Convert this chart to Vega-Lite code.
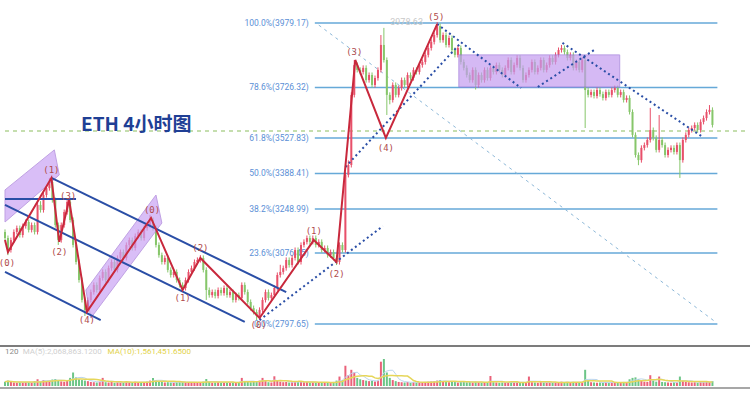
{
"$schema":"https://vega.github.io/schema/vega-lite/v6.json",
"width":750,"height":399,"padding":0,
"autosize":{"type":"none"},
"background":"#ffffff",
"config":{"view":{"stroke":null}},
"datasets":{
"candles":[
{"t":0,"o":3159,"h":3169,"l":3125,"c":3135,"v":1.6},
{"t":1,"o":3135,"h":3145,"l":3068,"c":3088,"v":2.0},
{"t":2,"o":3088,"h":3137,"l":3078,"c":3127,"v":1.5},
{"t":3,"o":3127,"h":3169,"l":3117,"c":3159,"v":1.3},
{"t":4,"o":3159,"h":3184,"l":3149,"c":3174,"v":1.2},
{"t":5,"o":3174,"h":3184,"l":3137,"c":3147,"v":1.4},
{"t":6,"o":3147,"h":3192,"l":3137,"c":3182,"v":1.3},
{"t":7,"o":3182,"h":3208,"l":3172,"c":3198,"v":1.5},
{"t":8,"o":3198,"h":3208,"l":3157,"c":3167,"v":1.4},
{"t":9,"o":3167,"h":3196,"l":3157,"c":3186,"v":1.2},
{"t":10,"o":3186,"h":3196,"l":3149,"c":3159,"v":1.8},
{"t":11,"o":3159,"h":3275,"l":3149,"c":3265,"v":2.5},
{"t":12,"o":3265,"h":3280,"l":3235,"c":3245,"v":1.6},
{"t":13,"o":3245,"h":3314,"l":3235,"c":3304,"v":2.2},
{"t":14,"o":3304,"h":3341,"l":3294,"c":3331,"v":1.8},
{"t":15,"o":3331,"h":3371,"l":3321,"c":3355,"v":2.0},
{"t":16,"o":3355,"h":3365,"l":3274,"c":3284,"v":2.4},
{"t":17,"o":3284,"h":3294,"l":3176,"c":3186,"v":2.6},
{"t":18,"o":3186,"h":3196,"l":3108,"c":3127,"v":2.0},
{"t":19,"o":3127,"h":3196,"l":3117,"c":3186,"v":1.7},
{"t":20,"o":3186,"h":3247,"l":3176,"c":3237,"v":1.6},
{"t":21,"o":3237,"h":3292,"l":3227,"c":3277,"v":2.0},
{"t":22,"o":3277,"h":3287,"l":3196,"c":3206,"v":3.0},
{"t":23,"o":3206,"h":3216,"l":3098,"c":3108,"v":5.0},
{"t":24,"o":3108,"h":3118,"l":3031,"c":3041,"v":3.2},
{"t":25,"o":3041,"h":3051,"l":2960,"c":2970,"v":2.5},
{"t":26,"o":2970,"h":2980,"l":2882,"c":2892,"v":2.2},
{"t":27,"o":2892,"h":2902,"l":2829,"c":2853,"v":2.0},
{"t":28,"o":2853,"h":2902,"l":2843,"c":2892,"v":1.8},
{"t":29,"o":2892,"h":2933,"l":2882,"c":2923,"v":1.5},
{"t":30,"o":2923,"h":2961,"l":2913,"c":2951,"v":1.4},
{"t":31,"o":2951,"h":2961,"l":2921,"c":2931,"v":1.3},
{"t":32,"o":2931,"h":2988,"l":2921,"c":2978,"v":1.6},
{"t":33,"o":2978,"h":3012,"l":2968,"c":3002,"v":3.0},
{"t":34,"o":3002,"h":3012,"l":2960,"c":2970,"v":1.4},
{"t":35,"o":2970,"h":3027,"l":2960,"c":3017,"v":1.3},
{"t":36,"o":3017,"h":3051,"l":3007,"c":3041,"v":1.5},
{"t":37,"o":3041,"h":3051,"l":3000,"c":3010,"v":1.2},
{"t":38,"o":3010,"h":3067,"l":3000,"c":3057,"v":1.4},
{"t":39,"o":3057,"h":3090,"l":3047,"c":3080,"v":1.3},
{"t":40,"o":3080,"h":3090,"l":3047,"c":3057,"v":1.2},
{"t":41,"o":3057,"h":3118,"l":3047,"c":3108,"v":1.5},
{"t":42,"o":3108,"h":3137,"l":3098,"c":3127,"v":1.4},
{"t":43,"o":3127,"h":3137,"l":3086,"c":3096,"v":1.3},
{"t":44,"o":3096,"h":3153,"l":3086,"c":3143,"v":1.6},
{"t":45,"o":3143,"h":3169,"l":3133,"c":3159,"v":1.4},
{"t":46,"o":3159,"h":3169,"l":3125,"c":3135,"v":1.2},
{"t":47,"o":3135,"h":3184,"l":3125,"c":3174,"v":1.5},
{"t":48,"o":3174,"h":3196,"l":3164,"c":3186,"v":1.6},
{"t":49,"o":3186,"h":3226,"l":3176,"c":3206,"v":2.0},
{"t":50,"o":3206,"h":3216,"l":3164,"c":3174,"v":3.0},
{"t":51,"o":3174,"h":3184,"l":3098,"c":3108,"v":2.2},
{"t":52,"o":3108,"h":3118,"l":3058,"c":3068,"v":1.8},
{"t":53,"o":3068,"h":3078,"l":3031,"c":3041,"v":1.5},
{"t":54,"o":3041,"h":3067,"l":3031,"c":3057,"v":1.3},
{"t":55,"o":3057,"h":3067,"l":3000,"c":3010,"v":1.4},
{"t":56,"o":3010,"h":3020,"l":2980,"c":2990,"v":1.3},
{"t":57,"o":2990,"h":3012,"l":2980,"c":3002,"v":1.2},
{"t":58,"o":3002,"h":3012,"l":2960,"c":2970,"v":1.4},
{"t":59,"o":2970,"h":2980,"l":2941,"c":2951,"v":1.5},
{"t":60,"o":2951,"h":2961,"l":2929,"c":2939,"v":1.6},
{"t":61,"o":2939,"h":2980,"l":2929,"c":2970,"v":1.4},
{"t":62,"o":2970,"h":3012,"l":2960,"c":3002,"v":1.3},
{"t":63,"o":3002,"h":3027,"l":2992,"c":3017,"v":1.2},
{"t":64,"o":3017,"h":3051,"l":3007,"c":3041,"v":1.4},
{"t":65,"o":3041,"h":3059,"l":3031,"c":3049,"v":1.2},
{"t":66,"o":3049,"h":3068,"l":3039,"c":3057,"v":1.3},
{"t":67,"o":3057,"h":3067,"l":3000,"c":3010,"v":1.6},
{"t":68,"o":3010,"h":3020,"l":2892,"c":2931,"v":2.6},
{"t":69,"o":2931,"h":2941,"l":2901,"c":2911,"v":1.5},
{"t":70,"o":2911,"h":2933,"l":2901,"c":2923,"v":1.2},
{"t":71,"o":2923,"h":2933,"l":2898,"c":2908,"v":1.3},
{"t":72,"o":2908,"h":2941,"l":2898,"c":2931,"v":1.4},
{"t":73,"o":2931,"h":2941,"l":2909,"c":2919,"v":1.2},
{"t":74,"o":2919,"h":2949,"l":2909,"c":2939,"v":1.3},
{"t":75,"o":2939,"h":2949,"l":2901,"c":2911,"v":1.4},
{"t":76,"o":2911,"h":2933,"l":2901,"c":2923,"v":1.2},
{"t":77,"o":2923,"h":2933,"l":2882,"c":2892,"v":1.5},
{"t":78,"o":2892,"h":2921,"l":2882,"c":2911,"v":1.3},
{"t":79,"o":2911,"h":2921,"l":2890,"c":2900,"v":1.4},
{"t":80,"o":2900,"h":2961,"l":2890,"c":2951,"v":3.0},
{"t":81,"o":2951,"h":2961,"l":2913,"c":2923,"v":1.6},
{"t":82,"o":2923,"h":2933,"l":2874,"c":2884,"v":1.5},
{"t":83,"o":2884,"h":2894,"l":2850,"c":2860,"v":1.4},
{"t":84,"o":2860,"h":2870,"l":2835,"c":2845,"v":1.5},
{"t":85,"o":2845,"h":2855,"l":2813,"c":2829,"v":1.8},
{"t":86,"o":2829,"h":2863,"l":2819,"c":2853,"v":2.0},
{"t":87,"o":2853,"h":2902,"l":2843,"c":2892,"v":3.0},
{"t":88,"o":2892,"h":2933,"l":2882,"c":2923,"v":1.8},
{"t":89,"o":2923,"h":2933,"l":2890,"c":2900,"v":1.4},
{"t":90,"o":2900,"h":2921,"l":2890,"c":2911,"v":1.3},
{"t":91,"o":2911,"h":2949,"l":2901,"c":2939,"v":3.6},
{"t":92,"o":2939,"h":3000,"l":2929,"c":2990,"v":2.0},
{"t":93,"o":2990,"h":3030,"l":2980,"c":3002,"v":1.6},
{"t":94,"o":3002,"h":3027,"l":2992,"c":3017,"v":1.4},
{"t":95,"o":3017,"h":3059,"l":3007,"c":3049,"v":1.5},
{"t":96,"o":3049,"h":3059,"l":3019,"c":3029,"v":1.3},
{"t":97,"o":3029,"h":3067,"l":3019,"c":3057,"v":1.4},
{"t":98,"o":3057,"h":3098,"l":3047,"c":3088,"v":1.6},
{"t":99,"o":3088,"h":3098,"l":3031,"c":3041,"v":1.5},
{"t":100,"o":3041,"h":3118,"l":3031,"c":3108,"v":1.7},
{"t":101,"o":3108,"h":3130,"l":3098,"c":3120,"v":1.4},
{"t":102,"o":3120,"h":3145,"l":3110,"c":3135,"v":1.5},
{"t":103,"o":3135,"h":3145,"l":3110,"c":3120,"v":1.3},
{"t":104,"o":3120,"h":3145,"l":3110,"c":3135,"v":1.4},
{"t":105,"o":3135,"h":3145,"l":3098,"c":3108,"v":1.3},
{"t":106,"o":3108,"h":3130,"l":3098,"c":3120,"v":1.2},
{"t":107,"o":3120,"h":3130,"l":3078,"c":3088,"v":1.4},
{"t":108,"o":3088,"h":3106,"l":3078,"c":3096,"v":1.2},
{"t":109,"o":3096,"h":3106,"l":3058,"c":3068,"v":1.3},
{"t":110,"o":3068,"h":3090,"l":3058,"c":3080,"v":1.2},
{"t":111,"o":3080,"h":3090,"l":3047,"c":3057,"v":1.5},
{"t":112,"o":3057,"h":3067,"l":3029,"c":3041,"v":2.0},
{"t":113,"o":3041,"h":3118,"l":3031,"c":3108,"v":3.5},
{"t":114,"o":3108,"h":3118,"l":3078,"c":3088,"v":2.2},
{"t":115,"o":3088,"h":3393,"l":3078,"c":3383,"v":7.5},
{"t":116,"o":3383,"h":3440,"l":3373,"c":3422,"v":4.0},
{"t":117,"o":3422,"h":3707,"l":3412,"c":3697,"v":6.0},
{"t":118,"o":3697,"h":3834,"l":3687,"c":3814,"v":5.0},
{"t":119,"o":3814,"h":3824,"l":3785,"c":3795,"v":3.0},
{"t":120,"o":3795,"h":3805,"l":3777,"c":3787,"v":2.5},
{"t":121,"o":3787,"h":3813,"l":3777,"c":3803,"v":2.2},
{"t":122,"o":3803,"h":3813,"l":3745,"c":3755,"v":2.0},
{"t":123,"o":3755,"h":3785,"l":3745,"c":3775,"v":1.8},
{"t":124,"o":3775,"h":3785,"l":3726,"c":3736,"v":1.9},
{"t":125,"o":3736,"h":3773,"l":3726,"c":3763,"v":1.7},
{"t":126,"o":3763,"h":3805,"l":3753,"c":3795,"v":2.0},
{"t":127,"o":3795,"h":3932,"l":3785,"c":3893,"v":9.0},
{"t":128,"o":3893,"h":3960,"l":3824,"c":3834,"v":10.0},
{"t":129,"o":3834,"h":3844,"l":3618,"c":3697,"v":5.0},
{"t":130,"o":3697,"h":3707,"l":3660,"c":3677,"v":3.0},
{"t":131,"o":3677,"h":3746,"l":3667,"c":3736,"v":2.2},
{"t":132,"o":3736,"h":3746,"l":3687,"c":3697,"v":1.8},
{"t":133,"o":3697,"h":3734,"l":3687,"c":3724,"v":1.5},
{"t":134,"o":3724,"h":3765,"l":3714,"c":3755,"v":1.4},
{"t":135,"o":3755,"h":3765,"l":3726,"c":3736,"v":1.3},
{"t":136,"o":3736,"h":3785,"l":3726,"c":3775,"v":1.5},
{"t":137,"o":3775,"h":3785,"l":3753,"c":3763,"v":1.2},
{"t":138,"o":3763,"h":3805,"l":3753,"c":3795,"v":1.4},
{"t":139,"o":3795,"h":3805,"l":3777,"c":3787,"v":1.2},
{"t":140,"o":3787,"h":3824,"l":3777,"c":3814,"v":1.4},
{"t":141,"o":3814,"h":3836,"l":3804,"c":3826,"v":1.3},
{"t":142,"o":3826,"h":3864,"l":3816,"c":3854,"v":1.5},
{"t":143,"o":3854,"h":3891,"l":3844,"c":3881,"v":1.6},
{"t":144,"o":3881,"h":3915,"l":3871,"c":3905,"v":1.7},
{"t":145,"o":3905,"h":3942,"l":3895,"c":3932,"v":1.8},
{"t":146,"o":3932,"h":3983,"l":3922,"c":3967,"v":2.0},
{"t":147,"o":3967,"h":3977,"l":3902,"c":3912,"v":2.2},
{"t":148,"o":3912,"h":3942,"l":3902,"c":3932,"v":1.6},
{"t":149,"o":3932,"h":3942,"l":3883,"c":3893,"v":1.8},
{"t":150,"o":3893,"h":3930,"l":3883,"c":3920,"v":1.4},
{"t":151,"o":3920,"h":3930,"l":3863,"c":3873,"v":1.6},
{"t":152,"o":3873,"h":3883,"l":3844,"c":3854,"v":1.5},
{"t":153,"o":3854,"h":3891,"l":3844,"c":3881,"v":1.3},
{"t":154,"o":3881,"h":3891,"l":3816,"c":3826,"v":1.8},
{"t":155,"o":3826,"h":3836,"l":3793,"c":3803,"v":1.5},
{"t":156,"o":3803,"h":3813,"l":3765,"c":3775,"v":1.4},
{"t":157,"o":3775,"h":3785,"l":3745,"c":3755,"v":1.5},
{"t":158,"o":3755,"h":3805,"l":3745,"c":3795,"v":1.3},
{"t":159,"o":3795,"h":3805,"l":3718,"c":3736,"v":1.6},
{"t":160,"o":3736,"h":3785,"l":3726,"c":3775,"v":1.4},
{"t":161,"o":3775,"h":3785,"l":3745,"c":3755,"v":1.2},
{"t":162,"o":3755,"h":3805,"l":3745,"c":3795,"v":1.3},
{"t":163,"o":3795,"h":3805,"l":3753,"c":3763,"v":1.2},
{"t":164,"o":3763,"h":3813,"l":3753,"c":3803,"v":3.7},
{"t":165,"o":3803,"h":3813,"l":3777,"c":3787,"v":1.4},
{"t":166,"o":3787,"h":3824,"l":3777,"c":3814,"v":1.3},
{"t":167,"o":3814,"h":3824,"l":3785,"c":3795,"v":1.2},
{"t":168,"o":3795,"h":3805,"l":3765,"c":3775,"v":1.3},
{"t":169,"o":3775,"h":3813,"l":3765,"c":3803,"v":1.2},
{"t":170,"o":3803,"h":3844,"l":3793,"c":3834,"v":1.4},
{"t":171,"o":3834,"h":3844,"l":3777,"c":3787,"v":1.5},
{"t":172,"o":3787,"h":3824,"l":3777,"c":3814,"v":1.3},
{"t":173,"o":3814,"h":3852,"l":3804,"c":3842,"v":1.4},
{"t":174,"o":3842,"h":3852,"l":3793,"c":3803,"v":1.3},
{"t":175,"o":3803,"h":3813,"l":3745,"c":3755,"v":1.5},
{"t":176,"o":3755,"h":3785,"l":3745,"c":3775,"v":1.2},
{"t":177,"o":3775,"h":3805,"l":3765,"c":3795,"v":3.5},
{"t":178,"o":3795,"h":3836,"l":3785,"c":3826,"v":1.4},
{"t":179,"o":3826,"h":3836,"l":3777,"c":3787,"v":1.3},
{"t":180,"o":3787,"h":3813,"l":3777,"c":3803,"v":1.2},
{"t":181,"o":3803,"h":3844,"l":3793,"c":3834,"v":1.4},
{"t":182,"o":3834,"h":3844,"l":3785,"c":3795,"v":1.3},
{"t":183,"o":3795,"h":3824,"l":3785,"c":3814,"v":1.2},
{"t":184,"o":3814,"h":3852,"l":3804,"c":3842,"v":1.3},
{"t":185,"o":3842,"h":3852,"l":3816,"c":3826,"v":1.2},
{"t":186,"o":3826,"h":3864,"l":3816,"c":3854,"v":1.4},
{"t":187,"o":3854,"h":3883,"l":3844,"c":3873,"v":1.5},
{"t":188,"o":3873,"h":3893,"l":3863,"c":3881,"v":1.6},
{"t":189,"o":3881,"h":3891,"l":3855,"c":3865,"v":1.3},
{"t":190,"o":3865,"h":3875,"l":3832,"c":3842,"v":1.4},
{"t":191,"o":3842,"h":3864,"l":3832,"c":3854,"v":1.2},
{"t":192,"o":3854,"h":3864,"l":3793,"c":3803,"v":1.5},
{"t":193,"o":3803,"h":3836,"l":3793,"c":3826,"v":1.3},
{"t":194,"o":3826,"h":3836,"l":3785,"c":3795,"v":1.4},
{"t":195,"o":3795,"h":3844,"l":3785,"c":3834,"v":1.5},
{"t":196,"o":3834,"h":3844,"l":3567,"c":3716,"v":6.0},
{"t":197,"o":3716,"h":3726,"l":3687,"c":3697,"v":2.0},
{"t":198,"o":3697,"h":3718,"l":3687,"c":3708,"v":1.4},
{"t":199,"o":3708,"h":3718,"l":3683,"c":3693,"v":1.3},
{"t":200,"o":3693,"h":3726,"l":3683,"c":3716,"v":1.2},
{"t":201,"o":3716,"h":3726,"l":3690,"c":3700,"v":1.3},
{"t":202,"o":3700,"h":3710,"l":3675,"c":3685,"v":1.2},
{"t":203,"o":3685,"h":3718,"l":3675,"c":3708,"v":1.4},
{"t":204,"o":3708,"h":3718,"l":3687,"c":3697,"v":1.2},
{"t":205,"o":3697,"h":3726,"l":3687,"c":3716,"v":1.3},
{"t":206,"o":3716,"h":3734,"l":3706,"c":3724,"v":1.2},
{"t":207,"o":3724,"h":3734,"l":3687,"c":3697,"v":1.4},
{"t":208,"o":3697,"h":3718,"l":3687,"c":3708,"v":1.3},
{"t":209,"o":3708,"h":3718,"l":3667,"c":3677,"v":1.5},
{"t":210,"o":3677,"h":3695,"l":3667,"c":3685,"v":1.3},
{"t":211,"o":3685,"h":3695,"l":3620,"c":3630,"v":2.5},
{"t":212,"o":3630,"h":3640,"l":3530,"c":3540,"v":3.0},
{"t":213,"o":3540,"h":3550,"l":3451,"c":3461,"v":3.2},
{"t":214,"o":3461,"h":3471,"l":3421,"c":3441,"v":2.5},
{"t":215,"o":3441,"h":3499,"l":3431,"c":3489,"v":2.0},
{"t":216,"o":3489,"h":3510,"l":3479,"c":3500,"v":1.6},
{"t":217,"o":3500,"h":3530,"l":3490,"c":3520,"v":1.5},
{"t":218,"o":3520,"h":3646,"l":3510,"c":3559,"v":4.0},
{"t":219,"o":3559,"h":3569,"l":3518,"c":3528,"v":2.0},
{"t":220,"o":3528,"h":3538,"l":3471,"c":3481,"v":1.6},
{"t":221,"o":3481,"h":3618,"l":3471,"c":3520,"v":3.5},
{"t":222,"o":3520,"h":3530,"l":3490,"c":3500,"v":1.5},
{"t":223,"o":3500,"h":3510,"l":3451,"c":3461,"v":1.4},
{"t":224,"o":3461,"h":3491,"l":3451,"c":3481,"v":1.3},
{"t":225,"o":3481,"h":3499,"l":3471,"c":3489,"v":1.2},
{"t":226,"o":3489,"h":3499,"l":3463,"c":3473,"v":1.4},
{"t":227,"o":3473,"h":3510,"l":3463,"c":3500,"v":1.3},
{"t":228,"o":3500,"h":3510,"l":3371,"c":3441,"v":3.5},
{"t":229,"o":3441,"h":3530,"l":3431,"c":3520,"v":2.0},
{"t":230,"o":3520,"h":3550,"l":3510,"c":3540,"v":1.6},
{"t":231,"o":3540,"h":3569,"l":3530,"c":3559,"v":1.4},
{"t":232,"o":3559,"h":3577,"l":3549,"c":3567,"v":1.3},
{"t":233,"o":3567,"h":3589,"l":3557,"c":3579,"v":1.4},
{"t":234,"o":3579,"h":3589,"l":3549,"c":3559,"v":1.2},
{"t":235,"o":3559,"h":3601,"l":3549,"c":3591,"v":1.5},
{"t":236,"o":3591,"h":3616,"l":3581,"c":3606,"v":1.4},
{"t":237,"o":3606,"h":3640,"l":3596,"c":3630,"v":1.6},
{"t":238,"o":3630,"h":3657,"l":3620,"c":3638,"v":1.5},
{"t":239,"o":3638,"h":3648,"l":3569,"c":3579,"v":1.8}
],
"fib":[
{"lab":"100.0%(3979.17)","p":3979.17,"a":104.67,"b":240.67},
{"lab":"78.6%(3726.32)","p":3726.32,"a":104.67,"b":240.67},
{"lab":"61.8%(3527.83)","p":3527.83,"a":104.67,"b":240.67},
{"lab":"50.0%(3388.41)","p":3388.41,"a":104.67,"b":240.67},
{"lab":"38.2%(3248.99)","p":3248.99,"a":104.67,"b":240.67},
{"lab":"23.6%(3076.45)","p":3076.45,"a":104.67,"b":240.67},
{"lab":"0.0%(2797.65)","p":2797.65,"a":104.67,"b":240.67}
],
"segs":[
{"k":"ch","x1":15.67,"y1":3371,"x2":95,"y2":2923},
{"k":"ch","x1":0,"y1":3265,"x2":81,"y2":2806},
{"k":"ch","x1":0,"y1":3002,"x2":32.33,"y2":2813},
{"k":"ch","x1":0,"y1":3288,"x2":24,"y2":3288},
{"k":"dot","x1":86,"y1":2813,"x2":127.67,"y2":3182},
{"k":"dot","x1":115,"y1":3414,"x2":154,"y2":3901},
{"k":"dot","x1":146,"y1":3975,"x2":174.33,"y2":3724},
{"k":"dot","x1":180,"y1":3728,"x2":199,"y2":3873},
{"k":"dot","x1":188.33,"y1":3901,"x2":235.67,"y2":3532},
{"k":"diag","x1":106,"y1":3971,"x2":240,"y2":2806},
{"k":"green","x1":0,"y1":3555,"x2":250,"y2":3555}
],
"poly":[
{"g":1,"t":0,"a":3324,"b":3198},
{"g":1,"t":16.67,"a":3481,"b":3366},
{"g":1,"t":18.33,"a":3383,"b":3383},
{"g":2,"t":27.33,"a":2931,"b":2931},
{"g":2,"t":29,"a":2957,"b":2821},
{"g":2,"t":51,"a":3304,"b":3163},
{"g":2,"t":53,"a":3194,"b":3194}
],
"box":[{"a":153.33,"b":207.67,"p1":3854,"p2":3728}],
"zig":[
{"i":0,"t":0,"p":3127},{"i":1,"t":1,"p":3080},{"i":2,"t":15.67,"p":3371},{"i":3,"t":18.33,"p":3120},
{"i":4,"t":21.67,"p":3284},{"i":5,"t":27.67,"p":2845},{"i":6,"t":49.33,"p":3214},{"i":7,"t":60,"p":2931},
{"i":8,"t":66,"p":3057},{"i":9,"t":86,"p":2821},{"i":10,"t":104.33,"p":3127},{"i":11,"t":112,"p":3041},
{"i":12,"t":118.33,"p":3834},{"i":13,"t":128.67,"p":3528},{"i":14,"t":146,"p":3975}
],
"waves":[
{"s":"(0)","t":0.67,"p":3037},{"s":"(1)","t":15.67,"p":3402},{"s":"(3)","t":21.33,"p":3300},
{"s":"(2)","t":18.33,"p":3080},{"s":"(4)","t":27.67,"p":2813},{"s":"(0)","t":49.67,"p":3245},
{"s":"(1)","t":60,"p":2900},{"s":"(2)","t":66,"p":3096},{"s":"(0)","t":85.67,"p":2794},
{"s":"(1)","t":104.33,"p":3163},{"s":"(2)","t":112,"p":2994},{"s":"(3)","t":118,"p":3865},
{"s":"(4)","t":128.67,"p":3489},{"s":"(5)","t":145.67,"p":4003}
],
"voltext":[
{"s":"120","t":0,"v":12.6,"col":"#8a8a8a"},
{"s":"MA(5):2,068,863.1200","t":6,"v":12.6,"col":"#cfcfcf"},
{"s":"MA(10):1,561,451.6500","t":34.67,"v":12.6,"col":"#e2d24a"}
],
"frame":[{"v":14.8,"col":"#505050"},{"v":-0.74,"col":"#8a8a8a"}]
},
"layer":[
{"layer":[
{"data":{"name":"fib"},"mark":{"type":"rule","color":"#66a9d8","strokeWidth":1.5},
 "encoding":{"x":{"field":"a","type":"quantitative","scale":{"domain":[0,250],"nice":false,"zero":false},"axis":null},"x2":{"field":"b"},
 "y":{"field":"p","type":"quantitative","scale":{"domain":[2503.25,4069.45],"nice":false,"zero":false},"axis":null}}},
{"data":{"name":"fib"},"mark":{"type":"text","align":"right","baseline":"middle","dx":-6,"color":"#5b8fd6","font":"Roboto","fontSize":8.5},
 "encoding":{"x":{"field":"a","type":"quantitative","scale":{"domain":[0,250],"nice":false,"zero":false},"axis":null},
 "y":{"field":"p","type":"quantitative","scale":{"domain":[2503.25,4069.45],"nice":false,"zero":false},"axis":null},"text":{"field":"lab"}}},
{"data":{"name":"segs"},"transform":[{"filter":"datum.k=='green'"}],"mark":{"type":"rule","color":"#b3d494","strokeWidth":1.5,"strokeDash":[4,4]},
 "encoding":{"x":{"field":"x1","type":"quantitative","scale":{"domain":[0,250],"nice":false,"zero":false},"axis":null},"x2":{"field":"x2"},
 "y":{"field":"y1","type":"quantitative","scale":{"domain":[2503.25,4069.45],"nice":false,"zero":false},"axis":null},"y2":{"field":"y2"}}},
{"data":{"name":"segs"},"transform":[{"filter":"datum.k=='diag'"}],"mark":{"type":"rule","color":"#8db8d8","strokeWidth":1,"strokeDash":[3,4]},
 "encoding":{"x":{"field":"x1","type":"quantitative","scale":{"domain":[0,250],"nice":false,"zero":false},"axis":null},"x2":{"field":"x2"},
 "y":{"field":"y1","type":"quantitative","scale":{"domain":[2503.25,4069.45],"nice":false,"zero":false},"axis":null},"y2":{"field":"y2"}}},
{"data":{"name":"candles"},"mark":{"type":"rule","strokeWidth":1},
 "encoding":{"x":{"field":"t","type":"quantitative","scale":{"domain":[0,250],"nice":false,"zero":false},"axis":null},
 "y":{"field":"l","type":"quantitative","scale":{"domain":[2503.25,4069.45],"nice":false,"zero":false},"axis":null},"y2":{"field":"h"},
 "color":{"condition":{"test":"datum.c >= datum.o","value":"#e8506a"},"value":"#86c66a"}}},
{"data":{"name":"candles"},"mark":{"type":"bar","width":2},
 "encoding":{"x":{"field":"t","type":"quantitative","scale":{"domain":[0,250],"nice":false,"zero":false},"axis":null},
 "y":{"field":"o","type":"quantitative","scale":{"domain":[2503.25,4069.45],"nice":false,"zero":false},"axis":null},"y2":{"field":"c"},
 "color":{"condition":{"test":"datum.c >= datum.o","value":"#e8506a"},"value":"#86c66a"}}},
{"data":{"name":"poly"},"mark":{"type":"area","color":"#c9a3f4","opacity":0.7,"stroke":"#a67ad8","strokeWidth":1},
 "encoding":{"x":{"field":"t","type":"quantitative","scale":{"domain":[0,250],"nice":false,"zero":false},"axis":null},
 "y":{"field":"a","type":"quantitative","scale":{"domain":[2503.25,4069.45],"nice":false,"zero":false},"axis":null},"y2":{"field":"b"},
 "detail":{"field":"g"}}},
{"data":{"name":"box"},"mark":{"type":"rect","color":"#c49cf0","opacity":0.7,"stroke":"#9a70d8","strokeWidth":1},
 "encoding":{"x":{"field":"a","type":"quantitative","scale":{"domain":[0,250],"nice":false,"zero":false},"axis":null},"x2":{"field":"b"},
 "y":{"field":"p1","type":"quantitative","scale":{"domain":[2503.25,4069.45],"nice":false,"zero":false},"axis":null},"y2":{"field":"p2"}}},
{"data":{"name":"segs"},"transform":[{"filter":"datum.k=='ch'"}],"mark":{"type":"rule","color":"#2a4ea6","strokeWidth":2},
 "encoding":{"x":{"field":"x1","type":"quantitative","scale":{"domain":[0,250],"nice":false,"zero":false},"axis":null},"x2":{"field":"x2"},
 "y":{"field":"y1","type":"quantitative","scale":{"domain":[2503.25,4069.45],"nice":false,"zero":false},"axis":null},"y2":{"field":"y2"}}},
{"data":{"name":"segs"},"transform":[{"filter":"datum.k=='dot'"}],"mark":{"type":"rule","color":"#2a4ea6","strokeWidth":2,"strokeDash":[2,3]},
 "encoding":{"x":{"field":"x1","type":"quantitative","scale":{"domain":[0,250],"nice":false,"zero":false},"axis":null},"x2":{"field":"x2"},
 "y":{"field":"y1","type":"quantitative","scale":{"domain":[2503.25,4069.45],"nice":false,"zero":false},"axis":null},"y2":{"field":"y2"}}},
{"data":{"name":"zig"},"mark":{"type":"line","color":"#c8283c","strokeWidth":2},
 "encoding":{"x":{"field":"t","type":"quantitative","scale":{"domain":[0,250],"nice":false,"zero":false},"axis":null},
 "y":{"field":"p","type":"quantitative","scale":{"domain":[2503.25,4069.45],"nice":false,"zero":false},"axis":null},"order":{"field":"i"}}},
{"data":{"name":"waves"},"mark":{"type":"text","color":"#b04a4a","font":"DejaVu Sans Mono","fontSize":9,"baseline":"middle"},
 "encoding":{"x":{"field":"t","type":"quantitative","scale":{"domain":[0,250],"nice":false,"zero":false},"axis":null},
 "y":{"field":"p","type":"quantitative","scale":{"domain":[2503.25,4069.45],"nice":false,"zero":false},"axis":null},"text":{"field":"s"}}},
{"data":{"values":[{"s":"3978.63","t":135.67,"p":3983}]},"mark":{"type":"text","color":"#c8c8c8","font":"Roboto","fontSize":9,"baseline":"middle"},
 "encoding":{"x":{"field":"t","type":"quantitative","scale":{"domain":[0,250],"nice":false,"zero":false},"axis":null},
 "y":{"field":"p","type":"quantitative","scale":{"domain":[2503.25,4069.45],"nice":false,"zero":false},"axis":null},"text":{"field":"s"}}},
{"data":{"values":[{"s":"ETH 4小时图","t":44.33,"p":3577}]},"mark":{"type":"text","color":"#1f3f95","font":"Noto Sans CJK SC","fontSize":19,"fontWeight":"bold","baseline":"middle"},
 "encoding":{"x":{"field":"t","type":"quantitative","scale":{"domain":[0,250],"nice":false,"zero":false},"axis":null},
 "y":{"field":"p","type":"quantitative","scale":{"domain":[2503.25,4069.45],"nice":false,"zero":false},"axis":null},"text":{"field":"s"}}}
]},
{"layer":[
{"data":{"name":"frame"},"mark":{"type":"rule","strokeWidth":1.5},
 "encoding":{"y":{"field":"v","type":"quantitative","scale":{"domain":[-4.815,142.96],"nice":false,"zero":false},"axis":null},
 "color":{"field":"col","type":"nominal","scale":null}}},
{"data":{"name":"candles"},"mark":{"type":"bar","width":2,"opacity":0.9},
 "encoding":{"x":{"field":"t","type":"quantitative","scale":{"domain":[0,250],"nice":false,"zero":false},"axis":null},
 "y":{"field":"v","type":"quantitative","scale":{"domain":[-4.815,142.96],"nice":false,"zero":false},"axis":null},"y2":{"datum":0},
 "color":{"condition":{"test":"datum.c >= datum.o","value":"#e8506a"},"value":"#5cbf7a"}}},
{"data":{"name":"candles"},"transform":[{"window":[{"op":"mean","field":"v","as":"ma5"}],"frame":[-4,0],"sort":[{"field":"t"}]}],
 "mark":{"type":"line","color":"#bcd6ee","strokeWidth":1},
 "encoding":{"x":{"field":"t","type":"quantitative","scale":{"domain":[0,250],"nice":false,"zero":false},"axis":null},
 "y":{"field":"ma5","type":"quantitative","scale":{"domain":[-4.815,142.96],"nice":false,"zero":false},"axis":null}}},
{"data":{"name":"candles"},"transform":[{"window":[{"op":"mean","field":"v","as":"ma10"}],"frame":[-9,0],"sort":[{"field":"t"}]}],
 "mark":{"type":"line","color":"#e6d65a","strokeWidth":1.5},
 "encoding":{"x":{"field":"t","type":"quantitative","scale":{"domain":[0,250],"nice":false,"zero":false},"axis":null},
 "y":{"field":"ma10","type":"quantitative","scale":{"domain":[-4.815,142.96],"nice":false,"zero":false},"axis":null}}},
{"data":{"name":"voltext"},"mark":{"type":"text","align":"left","baseline":"middle","font":"Roboto","fontSize":8},
 "encoding":{"x":{"field":"t","type":"quantitative","scale":{"domain":[0,250],"nice":false,"zero":false},"axis":null},
 "y":{"field":"v","type":"quantitative","scale":{"domain":[-4.815,142.96],"nice":false,"zero":false},"axis":null},
 "text":{"field":"s"},"color":{"field":"col","type":"nominal","scale":null}}}
]}
],
"resolve":{"scale":{"y":"independent"}}
}
